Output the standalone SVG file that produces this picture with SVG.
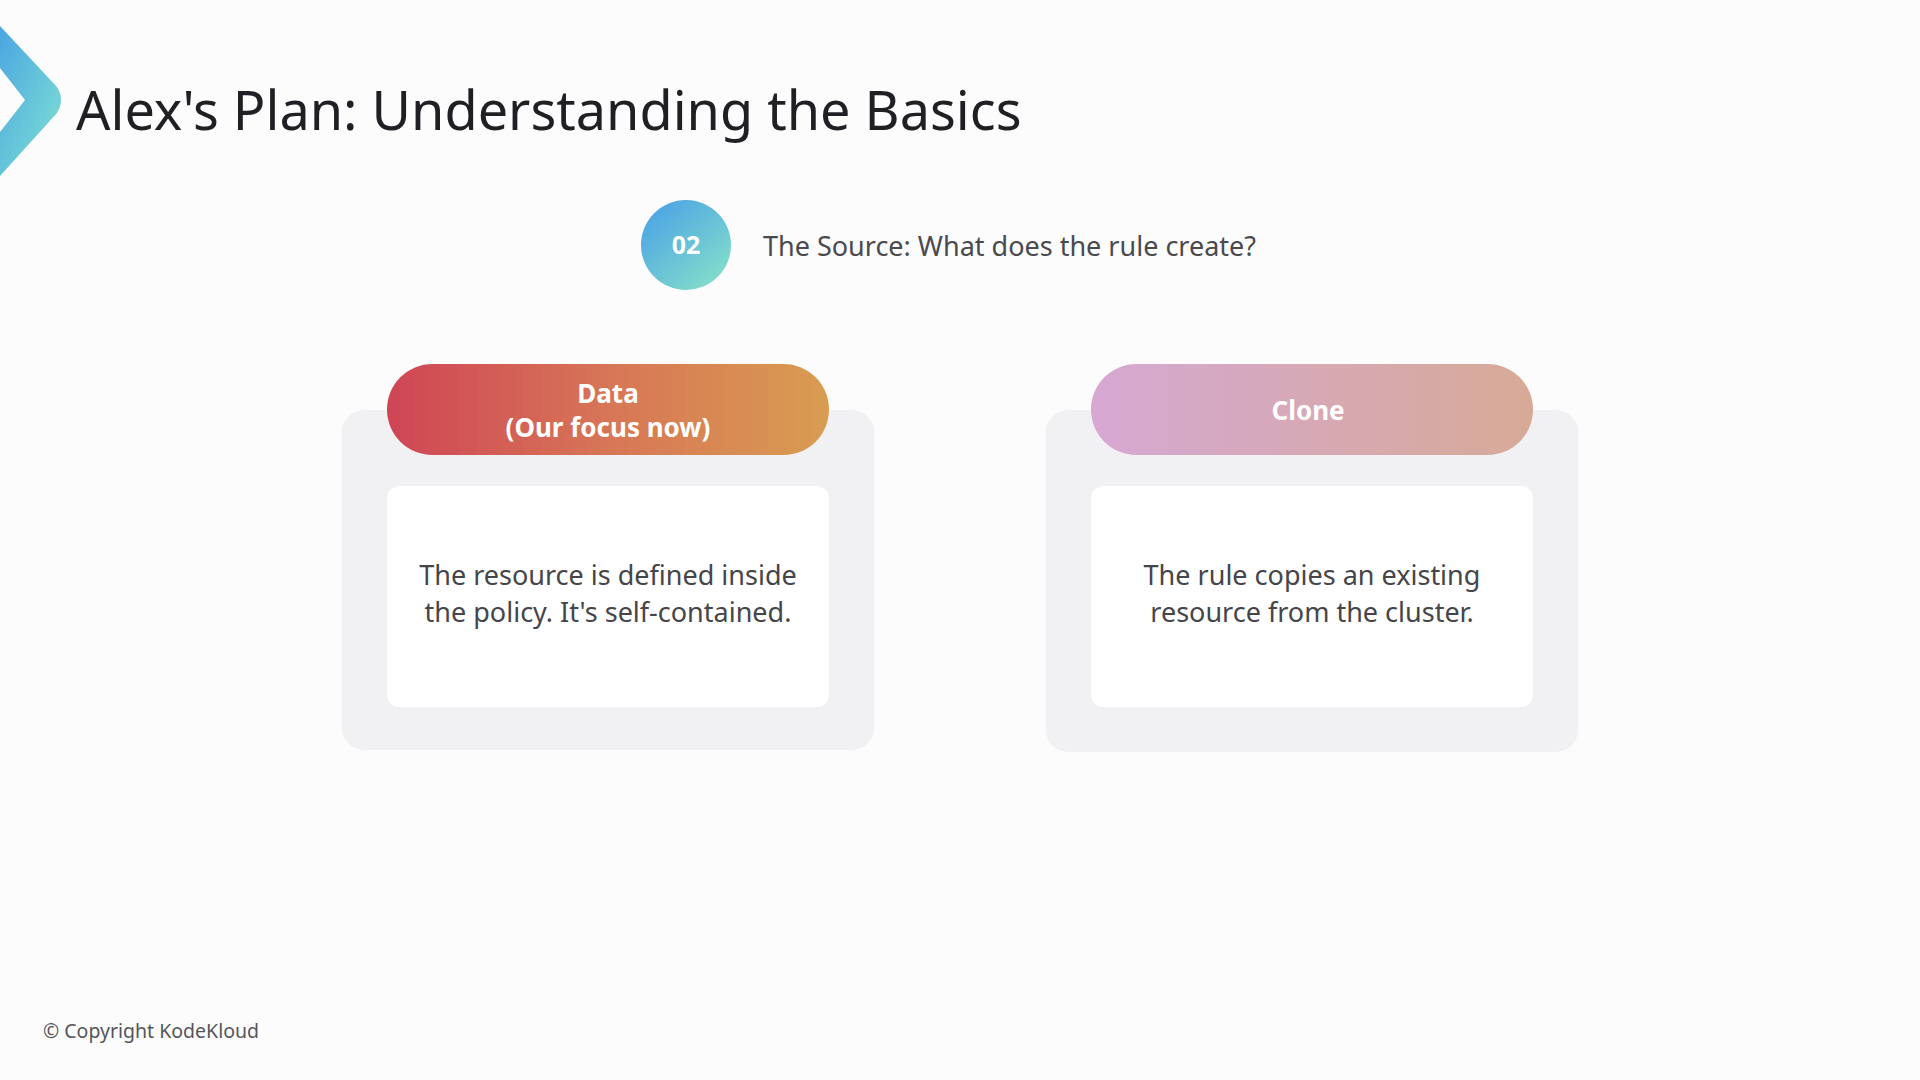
<svg xmlns="http://www.w3.org/2000/svg" width="1920" height="1080" viewBox="0 0 1920 1080">
<defs>
<linearGradient id="gChev" x1="0" y1="0" x2="1" y2="1">
<stop offset="0" stop-color="#4AA6E0"/>
<stop offset="1" stop-color="#82E2D3"/>
</linearGradient>
<linearGradient id="gCircle" x1="0.15" y1="0.1" x2="0.85" y2="0.9">
<stop offset="0" stop-color="#4EA6E3"/>
<stop offset="1" stop-color="#82DCCB"/>
</linearGradient>
<linearGradient id="gData" x1="0" y1="0" x2="1" y2="0">
<stop offset="0" stop-color="#CF4555"/>
<stop offset="0.5" stop-color="#D77656"/>
<stop offset="1" stop-color="#D99C51"/>
</linearGradient>
<linearGradient id="gClone" x1="0" y1="0" x2="1" y2="0">
<stop offset="0" stop-color="#D6A8D3"/>
<stop offset="1" stop-color="#D7AA97"/>
</linearGradient>
</defs>
<style>
.title{font-family:"Noto Sans","Open Sans",sans-serif;font-size:54px;fill:#1f1f24;}
.sub{font-family:"Noto Sans","Open Sans",sans-serif;font-size:27px;fill:#4a4a4e;}
.num{font-family:"Noto Sans","Open Sans",sans-serif;font-size:25px;font-weight:bold;fill:#ffffff;}
.pill{font-family:"Noto Sans","Open Sans",sans-serif;font-size:26px;font-weight:bold;fill:#ffffff;text-anchor:middle;}
.body{font-family:"Noto Sans","Open Sans",sans-serif;font-size:27px;fill:#45454a;text-anchor:middle;}
.copy{font-family:"Noto Sans","Open Sans",sans-serif;font-size:19.5px;fill:#555559;}
.outer{fill:#F1F0F3;}
.inner{fill:#FFFFFF;}
</style>
<rect width="1920" height="1080" fill="#FCFCFD"/>
<g id="chevron">
<path d="M0,26 L57,87 Q65,100 57,113 L0,176 L0,132 L25,100 L0,68 Z" fill="url(#gChev)"/>
</g>
<g id="title">
<text class="title" x="76" y="130">Alex's Plan: Understanding the Basics</text>
</g>
<g id="step">
<circle cx="686" cy="245" r="45" fill="url(#gCircle)"/>
<text class="num" x="686" y="254" text-anchor="middle">02</text>
<text class="sub" x="763" y="256">The Source: What does the rule create?</text>
</g>
<g id="card-data">
<rect class="outer" x="342" y="410" width="532" height="340" rx="22"/>
<rect class="inner" x="387" y="486" width="442" height="221" rx="12"/>
<rect x="387" y="364" width="442" height="91" rx="45.5" fill="url(#gData)"/>
<text class="pill" x="608" y="403">Data</text>
<text class="pill" x="608" y="437">(Our focus now)</text>
<text class="body" x="608" y="585">The resource is defined inside</text>
<text class="body" x="608" y="622">the policy. It's self-contained.</text>
</g>
<g id="card-clone">
<rect class="outer" x="1046" y="410" width="532" height="342" rx="22"/>
<rect class="inner" x="1091" y="486" width="442" height="221" rx="12"/>
<rect x="1091" y="364" width="442" height="91" rx="45.5" fill="url(#gClone)"/>
<text class="pill" x="1308" y="420">Clone</text>
<text class="body" x="1312" y="585">The rule copies an existing</text>
<text class="body" x="1312" y="622">resource from the cluster.</text>
</g>
<g id="connectors"/>
<g id="footer">
<text class="copy" x="43" y="1038">© Copyright KodeKloud</text>
</g>
</svg>
